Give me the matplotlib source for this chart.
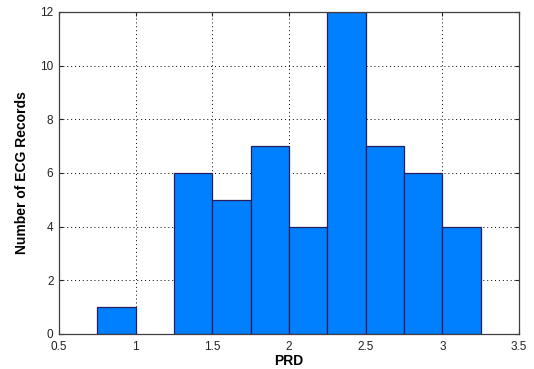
import matplotlib
matplotlib.use("Agg")
import matplotlib.pyplot as plt

plt.rcParams['font.family'] = ['Liberation Sans', 'DejaVu Sans']

# Histogram bins of PRD (left edges) and record counts
bin_edges = [0.75, 1.0, 1.25, 1.5, 1.75, 2.0, 2.25, 2.5, 2.75, 3.0, 3.25]
counts = [1, 0, 6, 5, 7, 4, 12, 7, 6, 4]
x_ticks = [0.5, 1, 1.5, 2, 2.5, 3, 3.5]
y_ticks = [0, 2, 4, 6, 8, 10, 12]

fig = plt.figure(figsize=(5.34, 3.69), dpi=100)
ax = fig.add_axes([0.1105, 0.0949, 0.8615, 0.8726])

widths = [b - a for a, b in zip(bin_edges[:-1], bin_edges[1:])]
lefts = bin_edges[:-1]
nz = [(l, w, c) for l, w, c in zip(lefts, widths, counts) if c > 0]
ax.bar([v[0] for v in nz], [v[2] for v in nz], width=[v[1] for v in nz],
       align='edge', color='#0080ff', edgecolor='#2a1a5e', linewidth=0.9, zorder=3)

ax.set_xlim(0.5, 3.5)
ax.set_ylim(0, 12)
ax.set_xticks(x_ticks)
ax.set_xticklabels(['0.5', '1', '1.5', '2', '2.5', '3', '3.5'])
ax.set_yticks(y_ticks)
ax.grid(True, linestyle=(0, (1, 3)), color='black', linewidth=0.7, zorder=1)
ax.set_axisbelow(True)
ax.tick_params(direction='in', top=True, right=True, length=3, width=0.8,
               labelsize=8.5, colors='#222222')
ax.tick_params(axis='x', pad=5)
ax.tick_params(axis='y', pad=4)
for s in ax.spines.values():
    s.set_color('#404040')
    s.set_linewidth(0.9)
    s.set_zorder(4)

ax.set_xlabel('PRD', fontsize=10, fontweight='bold', labelpad=1)
ax.set_ylabel('Number of ECG Records', fontsize=10, fontweight='bold', labelpad=8)

fig.savefig('out.png', dpi=100)
